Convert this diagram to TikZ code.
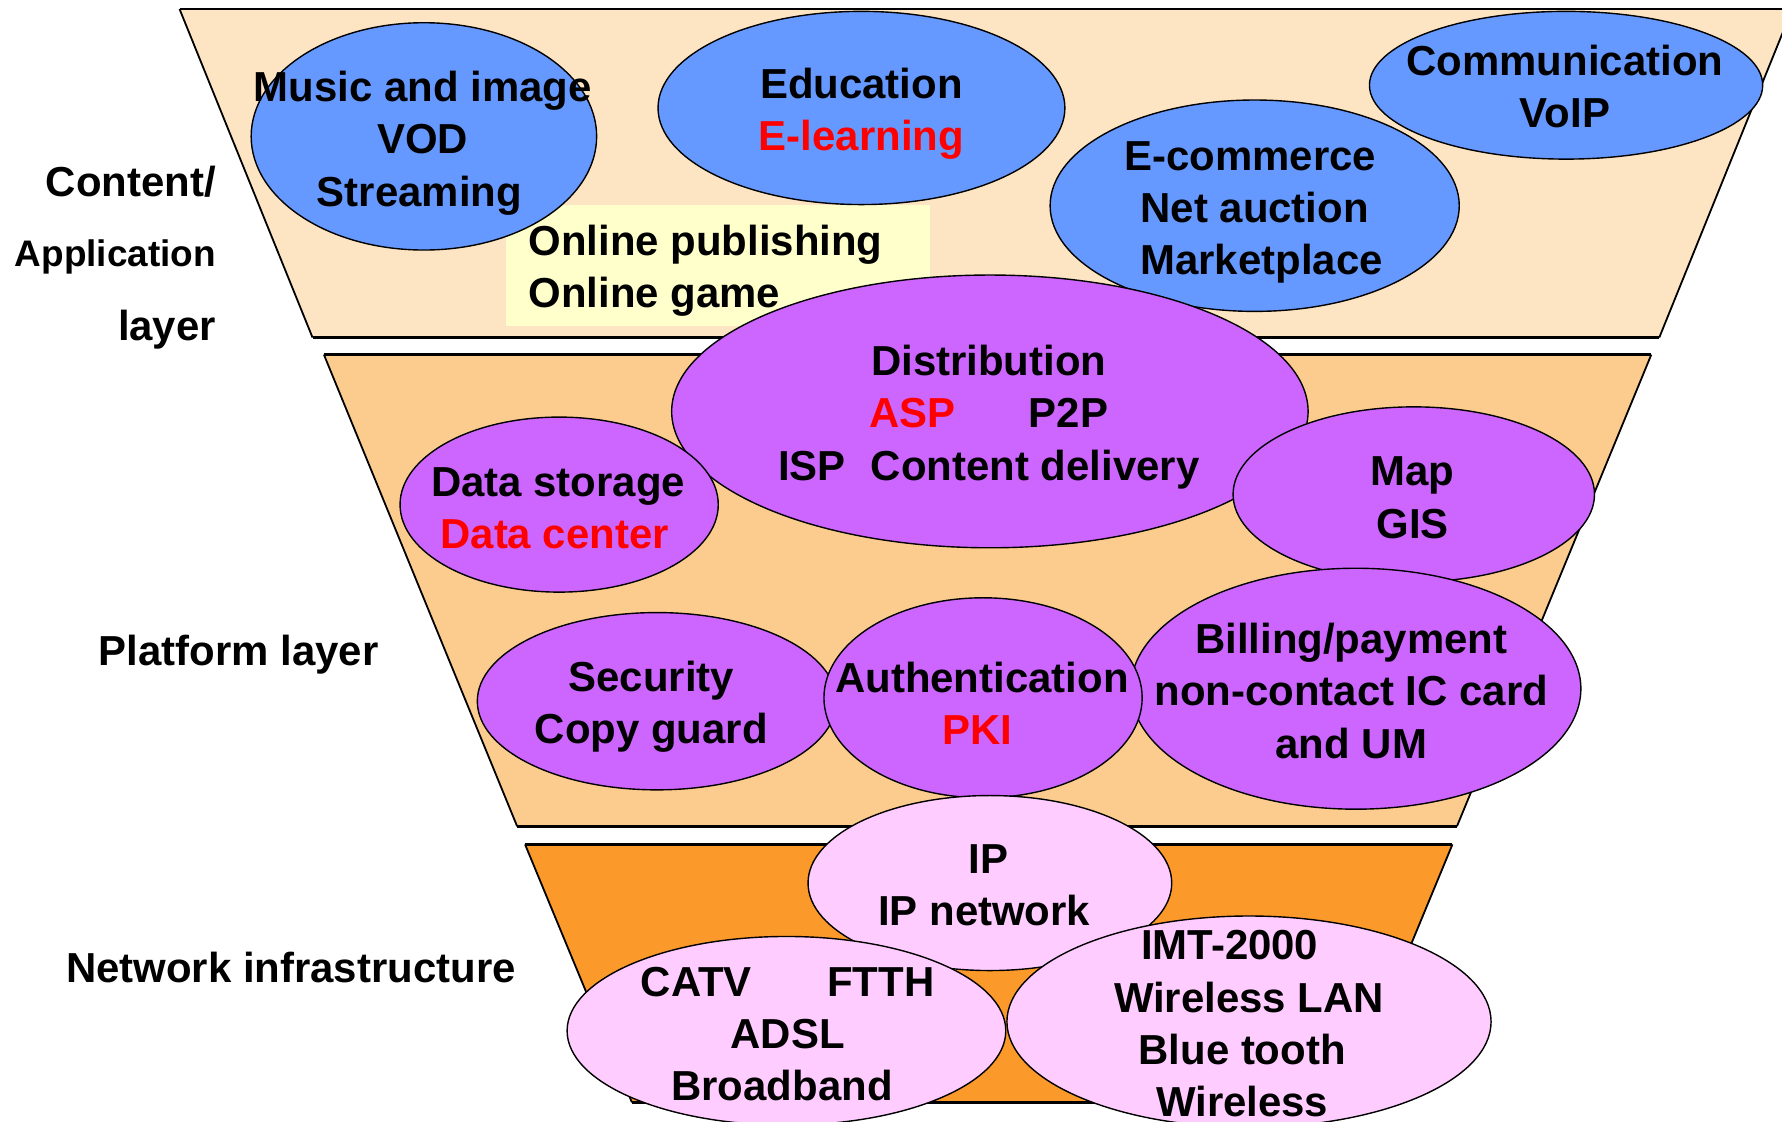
\documentclass[tikz,border=0pt]{standalone}
\usepackage{fontspec}
\setmainfont{Liberation Sans}
\usetikzlibrary{shapes.geometric}

\definecolor{appfill}{RGB}{253,229,195}
\definecolor{platfill}{RGB}{252,204,142}
\definecolor{netfill}{RGB}{251,153,42}
\definecolor{notefill}{RGB}{255,255,204}
\definecolor{cblue}{RGB}{102,153,255}
\definecolor{cpurple}{RGB}{204,102,255}
\definecolor{cpink}{RGB}{255,204,255}
\definecolor{cred}{RGB}{255,0,0}

\begin{document}
\begin{tikzpicture}[x=0.02cm,y=-0.02cm,
  ell/.style 2 args={ellipse, draw=black, line width=0.7pt, inner sep=0pt,
    outer sep=0pt, minimum width=#1*0.02cm, minimum height=#2*0.02cm},
  content/.style={fill=cblue},
  platform/.style={fill=cpurple},
  network/.style={fill=cpink},
  txt/.style={align=center, font=\fontsize{21}{26.2}\selectfont\bfseries,
    inner sep=0pt, outer sep=0pt},
  hedge/.style={line width=1.4pt},
  sedge/.style={line width=0.9pt}]

\useasboundingbox (0,0) rectangle (1568,987);
\fill[white] (0,0) rectangle (1568,987);

\begin{scope}
\clip (0,0) rectangle (1568,987);

% ---------- layer bands ----------
\fill[appfill] (158,8) -- (1577,8) -- (1460,297) -- (275,297) -- cycle;
\draw[hedge] (158,8) -- (1577,8);
\draw[hedge] (275,297) -- (1460,297);
\draw[sedge] (158,8) -- (275,297);
\draw[sedge] (1577,8) -- (1460,297);

\fill[platfill] (285,312) -- (1453,312) -- (1282,727) -- (455,727) -- cycle;
\draw[hedge] (285,312) -- (1453,312);
\draw[hedge] (455,727) -- (1282,727);
\draw[sedge] (285,312) -- (455,727);
\draw[sedge] (1453,312) -- (1282,727);

\fill[netfill] (462,743) -- (1278,743) -- (1184,970) -- (556,970) -- cycle;
\draw[hedge] (462,743) -- (1278,743);
\draw[hedge] (556,970) -- (1184,970);
\draw[sedge] (462,743) -- (556,970);
\draw[sedge] (1278,743) -- (1184,970);

% ---------- layer names ----------
\node[txt, anchor=east] (lcontent) at (190,160) {Content/};
\node[txt, anchor=east, font=\fontsize{18.5}{22}\selectfont\bfseries] (lapp) at (190,226) {Application};
\node[txt, anchor=east] (llayer) at (190,290) {layer};
\node[txt] (lplatform) at (210,576) {Platform layer};
\node[txt] (lnetwork) at (256,851) {Network infrastructure};

% ---------- content / application layer ----------
\fill[notefill] (445,180) rectangle (818,287);
\node[txt, anchor=west, align=left] (online) at (465,238) {Online publishing\\Online game};

\node[ell={304}{200}, content] (music) at (373,120) {};
\node[txt] (musict) at (372,126) {Music and image\\VOD\\\hspace*{-3.4pt}Streaming};

\node[ell={358}{170}, content] (edu) at (758,95) {};
\node[txt] (edut) at (758,100) {Education\\\textcolor{cred}{E-learning}};

\node[ell={346}{130}, content] (comm) at (1378,75) {};
\node[txt] (commt) at (1377,76) {Communication\\VoIP};

\node[ell={360}{186}, content] (ecom) at (1104,181) {};
\node[txt] (ecomt) at (1104,187) {\hspace*{-4.5pt}E-commerce\\Net auction\\\hspace*{6.8pt}Marketplace};

% ---------- platform layer ----------
\node[ell={560}{240}, platform] (dist) at (871,362) {};
\node[txt] (distt) at (870,367) {Distribution\\
  \textcolor{cred}{ASP}\hspace{1.75em}P2P\\
  ISP\hspace{0.6em}Content delivery};

\node[ell={280}{154}, platform] (store) at (492,444) {};
\node[txt] (storet) at (491,447) {Data storage\\\textcolor{cred}{Data center}\hspace*{3.4pt}};

\node[ell={318}{154}, platform] (map) at (1244,435) {};
\node[txt] (mapt) at (1243,438) {Map\\GIS};

\node[ell={396}{212}, platform] (bill) at (1193,606) {};
\node[txt] (billt) at (1189,608) {Billing/payment\\non-contact IC card\\and UM};

\node[ell={316}{156}, platform] (sec) at (578,617) {};
\node[txt] (sect) at (573,622) {Security\\Copy guard};

\node[ell={280}{176}, platform] (auth) at (865,614) {};
\node[txt] (autht) at (864,619) {Authentication\\\textcolor{cred}{PKI}\hspace*{4.5pt}};

% ---------- network infrastructure ----------
\node[ell={320}{154}, network] (ip) at (871,777) {};
\node[txt] (ipt) at (866,779) {\hspace*{4.5pt}IP\\IP network};

\node[ell={386}{166}, network] (wired) at (692,907) {};
\node[txt] (wiredt) at (693,910) {CATV\hspace{1.8em}FTTH\\ADSL\\\hspace*{-5.6pt}Broadband};

\node[ell={426}{186}, network] (wless) at (1099,899) {};
\node[txt] (wlesst) at (1093,901) {IMT-2000\hspace*{12.5pt}\\\hspace*{6.8pt}Wireless LAN\\Blue tooth\\Wireless};

\end{scope}
\end{tikzpicture}
\end{document}
